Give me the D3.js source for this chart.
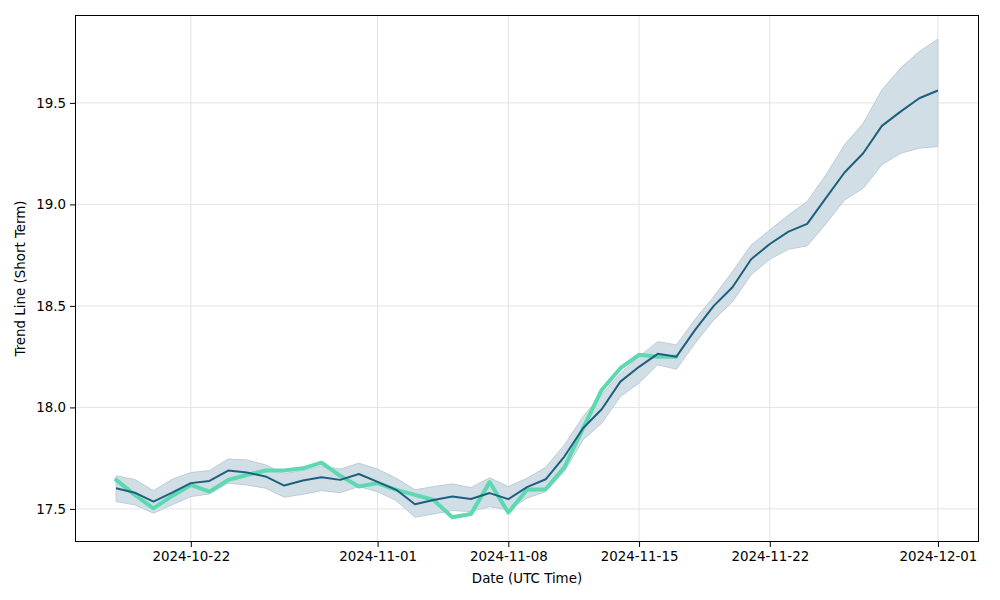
<!DOCTYPE html>
<html>
<head>
<meta charset="utf-8">
<script src="https://cdn.jsdelivr.net/npm/d3@7"></script>
<style>
  body { margin: 0; background: #fff; }
  svg { display: block; font-family: "DejaVu Sans", sans-serif; }
</style>
</head>
<body>
<svg id="chart" width="1000" height="600"></svg>
<script>
// ---- data ----
const startDate = "2024-10-18";
const trendValues = [17.602, 17.58, 17.536, 17.58, 17.627, 17.638, 17.689, 17.679, 17.66, 17.615,
  17.64, 17.656, 17.643, 17.672, 17.633, 17.594, 17.523, 17.544, 17.561, 17.549,
  17.578, 17.548, 17.607, 17.646, 17.758, 17.897, 17.991, 18.127, 18.2, 18.264,
  18.25, 18.382, 18.5, 18.592, 18.73, 18.805, 18.866, 18.904, 19.031, 19.157,
  19.252, 19.387, 19.457, 19.523, 19.561];
const upperValues = [17.663, 17.645, 17.59, 17.646, 17.679, 17.689, 17.746, 17.741, 17.717, 17.674,
  17.689, 17.712, 17.696, 17.725, 17.696, 17.651, 17.594, 17.61, 17.623, 17.605,
  17.653, 17.61, 17.651, 17.705, 17.815, 17.955, 18.062, 18.168, 18.25, 18.324,
  18.308, 18.434, 18.546, 18.669, 18.8, 18.874, 18.948, 19.014, 19.145, 19.293,
  19.4, 19.564, 19.671, 19.753, 19.814];
const lowerValues = [17.536, 17.52, 17.479, 17.52, 17.561, 17.574, 17.627, 17.618, 17.602, 17.558,
  17.572, 17.59, 17.58, 17.61, 17.585, 17.541, 17.459, 17.475, 17.492, 17.487,
  17.511, 17.495, 17.553, 17.585, 17.684, 17.84, 17.922, 18.053, 18.12, 18.21,
  18.188, 18.316, 18.431, 18.521, 18.653, 18.73, 18.779, 18.796, 18.904, 19.022,
  19.08, 19.195, 19.252, 19.277, 19.285];
const priceValues = [17.643, 17.569, 17.503, 17.564, 17.618, 17.585, 17.643, 17.667, 17.689, 17.689,
  17.70, 17.728, 17.663, 17.61, 17.627, 17.594, 17.569, 17.544, 17.459, 17.475,
  17.632, 17.482, 17.594, 17.597, 17.705, 17.897, 18.086, 18.193, 18.259, 18.25,
  18.25];
const xTickLabels = ["2024-10-22", "2024-11-01", "2024-11-08", "2024-11-15", "2024-11-22", "2024-12-01"];
const yTickValues = [17.5, 18.0, 18.5, 19.0, 19.5];
const xLabel = "Date (UTC Time)";
const yLabel = "Trend Line (Short Term)";

// ---- build ----
const parse = d3.utcParse("%Y-%m-%d");
const fmt = d3.utcFormat("%Y-%m-%d");
const t0 = parse(startDate);
const dayAt = i => d3.utcDay.offset(t0, i);
const trend = trendValues.map((v, i) => ({ date: dayAt(i), v, lo: lowerValues[i], hi: upperValues[i] }));
const price = priceValues.map((v, i) => ({ date: dayAt(i), v }));

const margin = { left: 75, right: 21, top: 15, bottom: 58 };
const W = 1000, H = 600;
const svg = d3.select("#chart");

const first = trend[0].date, last = trend[trend.length - 1].date;
const span = last - first;
const x = d3.scaleUtc()
  .domain([new Date(+first - span * 0.05), new Date(+last + span * 0.05)])
  .range([margin.left, W - margin.right]);
const y = d3.scaleLinear()
  .domain([17.337, 19.933])
  .range([H - margin.bottom, margin.top]);

const xTicks = xTickLabels.map(parse);
const gridColor = "#e3e3e3";

// grid
svg.append("g").selectAll("line").data(xTicks).join("line")
  .attr("x1", d => x(d)).attr("x2", d => x(d))
  .attr("y1", margin.top).attr("y2", H - margin.bottom)
  .attr("stroke", gridColor).attr("stroke-width", 1);
svg.append("g").selectAll("line").data(yTickValues).join("line")
  .attr("x1", margin.left).attr("x2", W - margin.right)
  .attr("y1", d => y(d)).attr("y2", d => y(d))
  .attr("stroke", gridColor).attr("stroke-width", 1);

// band
const area = d3.area().x(d => x(d.date)).y0(d => y(d.lo)).y1(d => y(d.hi));
svg.append("path").datum(trend).attr("d", area)
  .attr("fill", "#d1dee6").attr("stroke", "#bccdd9").attr("stroke-width", 1);

// price line (green)
const line = d3.line().x(d => x(d.date)).y(d => y(d.v));
svg.append("path").datum(price).attr("d", line)
  .attr("fill", "none").attr("stroke", "#5dd9b1").attr("stroke-width", 4)
  .attr("stroke-linejoin", "round").attr("stroke-linecap", "round");

// trend line
svg.append("path").datum(trend).attr("d", line)
  .attr("fill", "none").attr("stroke", "#1e5f7e").attr("stroke-width", 2)
  .attr("stroke-linejoin", "round");

// axes
const xAxis = d3.axisBottom(x).tickValues(xTicks).tickFormat(fmt).tickSizeOuter(0).tickSize(5).tickPadding(4);
const yAxis = d3.axisLeft(y).tickValues(yTickValues).tickFormat(d3.format(".1f")).tickSizeOuter(0).tickSize(5).tickPadding(4);
const gx = svg.append("g").attr("transform", `translate(0,${H - margin.bottom})`).call(xAxis);
const gy = svg.append("g").attr("transform", `translate(${margin.left},0)`).call(yAxis);
[gx, gy].forEach(g => {
  g.select(".domain").remove();
  g.selectAll("text").attr("font-family", "DejaVu Sans, sans-serif").attr("font-size", "13.4px").attr("fill", "#000");
  g.selectAll("line").attr("stroke", "#000");
});

// frame
svg.append("rect")
  .attr("x", margin.left + 0.5).attr("y", margin.top + 0.5)
  .attr("width", W - margin.right - margin.left - 1).attr("height", H - margin.bottom - margin.top - 1)
  .attr("fill", "none").attr("stroke", "#000").attr("stroke-width", 1);

// labels
svg.append("text").attr("x", (margin.left + W - margin.right) / 2).attr("y", 583)
  .attr("text-anchor", "middle").attr("font-size", "13.4px").text(xLabel);
svg.append("text").attr("transform", `translate(25,${(margin.top + H - margin.bottom) / 2}) rotate(-90)`)
  .attr("text-anchor", "middle").attr("font-size", "13.4px").text(yLabel);
</script>
</body>
</html>
